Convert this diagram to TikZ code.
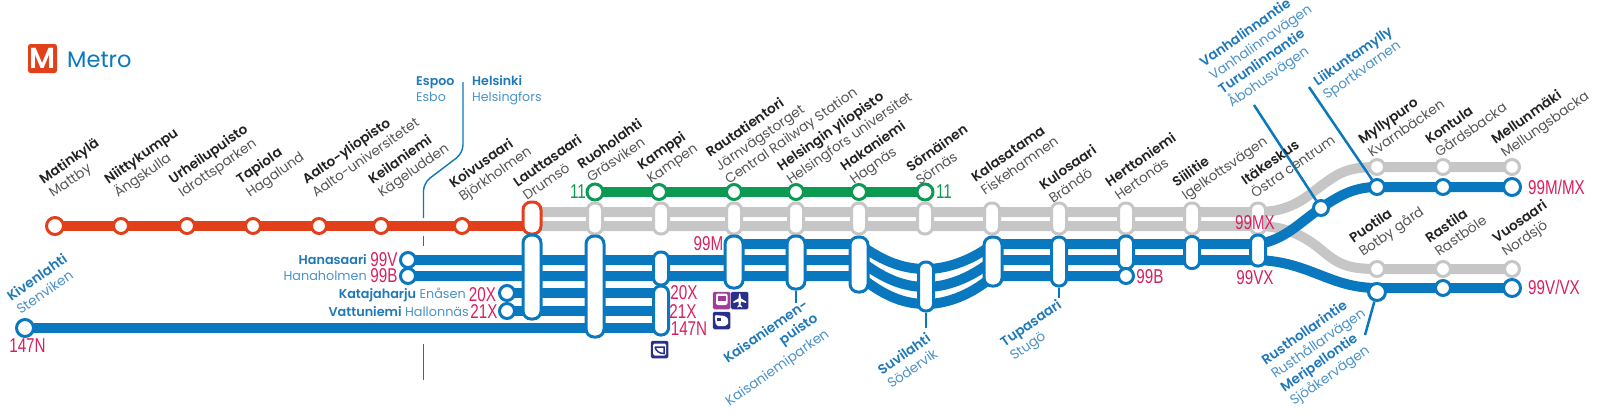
\documentclass[tikz,border=0pt]{standalone}
\usepackage{fontspec}
\setmainfont{Poppins}[BoldFont={Poppins SemiBold}]
\newfontfamily\codefont[FakeStretch=0.76]{Liberation Sans}
\usetikzlibrary{backgrounds}

\definecolor{metroorange}{HTML}{E1401A}
\definecolor{metroblue}{HTML}{0A78BE}
\definecolor{metrogreen}{HTML}{0C9A52}
\definecolor{metrogray}{HTML}{C6C6C6}
\definecolor{coderose}{HTML}{D81F5E}
\definecolor{labeldark}{HTML}{222222}
\definecolor{labelgray}{HTML}{555555}
\definecolor{labelblue}{HTML}{1F78B8}
\definecolor{labelsky}{HTML}{4C92C8}
\definecolor{iconnavy}{HTML}{27308A}
\definecolor{iconpurple}{HTML}{A23C96}

\newcommand{\sv}[1]{\textcolor{labelgray}{#1}}
\newcommand{\svb}[1]{\textcolor{labelsky}{#1}}

\tikzset{
    stoplabel/.style={rotate=35,anchor=base west,inner sep=0pt,align=left,text=labeldark,font=\fontsize{13.6}{16.5}\selectfont},
    bluelabel/.style={stoplabel,text=labelblue},
    sidelabel/.style={anchor=east,inner sep=0pt,text=labelblue,font=\fontsize{12.8}{15}\selectfont},
    code/.style={anchor=center,inner sep=0pt,text=coderose,font=\fontsize{20}{20}\selectfont\codefont},
    stop/.style={circle,draw=#1,fill=white,line width=3pt,inner sep=0pt,minimum size=15pt},
    endstop/.style={stop=#1,minimum size=17pt},
    pill/.style={rectangle,rounded corners=8pt,draw=#1,fill=white,line width=3pt,inner sep=0pt,minimum width=18pt},
    thinpill/.style={pill=#1,minimum width=15pt,rounded corners=7pt},
    line/.style={draw=#1,line width=10pt},
    stem/.style={draw=metroblue,line width=2.5pt},
    iconbox/.style={rectangle,rounded corners=1.5pt,fill=#1,inner sep=0pt,minimum size=17.5pt}
}

\begin{document}
\begin{tikzpicture}[x=1pt,y=-1pt]
    \useasboundingbox (0,0) rectangle (1600,418);

    \node[rectangle,rounded corners=2.5pt,fill=metroorange,text=white,inner sep=0pt,minimum size=29pt,font=\fontsize{29}{29}\selectfont\bfseries] (logo) at (42.5,58.5) {M};
    \node[anchor=base west,inner sep=0pt,text=metroblue,font=\fontsize{22.5}{23}\selectfont] (metro) at (67,67) {Metro};

    \coordinate (row1) at (0,244);
    \coordinate (row2) at (0,260);
    \coordinate (row3) at (0,276);
    \coordinate (row4) at (0,293);
    \coordinate (row5) at (0,311);
    \coordinate (row6) at (0,328);
    \coordinate (gray1) at (0,212);
    \coordinate (gray2) at (0,226);

    \node[endstop=metroorange] (matinkyla) at (55,226) {};
    \node[stop=metroorange] (niittykumpu) at (121,226) {};
    \node[stop=metroorange] (urheilupuisto) at (187,226) {};
    \node[stop=metroorange] (tapiola) at (253,226) {};
    \node[stop=metroorange] (aalto) at (319,226) {};
    \node[stop=metroorange] (keilaniemi) at (381,226) {};
    \node[stop=metroorange] (koivusaari) at (462,226) {};

    \node[stop=metrogreen,minimum size=16pt] (ruoholahtig) at (595,192) {};
    \node[stop=metrogreen] (kamppig) at (659,192) {};
    \node[stop=metrogreen] (rautag) at (734,192) {};
    \node[stop=metrogreen] (helyog) at (796,192) {};
    \node[stop=metrogreen] (hakaniemig) at (859,192) {};
    \node[stop=metrogreen,minimum size=16pt] (sornainen) at (925,192) {};

    \node[pill=metroorange,minimum height=32pt] (lauttao) at (532,218) {};
    \node[thinpill=metrogray,minimum height=31pt] (ruohoh) at (595,218.5) {};
    \node[thinpill=metrogray,minimum height=31pt] (kamppih) at (661,218.5) {};
    \node[thinpill=metrogray,minimum height=31pt] (rautah) at (734,218.5) {};
    \node[thinpill=metrogray,minimum height=31pt] (kaisah) at (796,218.5) {};
    \node[thinpill=metrogray,minimum height=31pt] (hakah) at (859,218.5) {};
    \node[thinpill=metrogray,minimum height=31pt] (sornah) at (925,218.5) {};
    \node[thinpill=metrogray,minimum height=31pt] (kalah) at (992,218.5) {};
    \node[thinpill=metrogray,minimum height=31pt] (kuloh) at (1059,218.5) {};
    \node[thinpill=metrogray,minimum height=31pt] (herttoh) at (1126,218.5) {};
    \node[thinpill=metrogray,minimum height=31pt] (siilih) at (1192,218.5) {};
    \node[thinpill=metrogray,minimum height=31pt] (itah) at (1258,218.5) {};

    \node[stop=metrogray] (myllyh) at (1377,167) {};
    \node[stop=metrogray] (kontulah) at (1443,167) {};
    \node[stop=metrogray] (mellunh) at (1512,167) {};
    \node[stop=metrogray] (puotilah) at (1377,269) {};
    \node[stop=metrogray] (rastilah) at (1443,269) {};
    \node[stop=metrogray] (vuosaarih) at (1512,269) {};

    \node[stop=metroblue] (hanasaari) at (408,260) {};
    \node[stop=metroblue] (hanaholmen) at (408,276) {};
    \node[stop=metroblue] (katajaharju) at (507,293) {};
    \node[stop=metroblue] (vattuniemi) at (507,311) {};
    \node[endstop=metroblue] (kivenlahti) at (25,328) {};

    \node[pill=metroblue,minimum height=84pt] (lauttab) at (532,277) {};
    \node[pill=metroblue,minimum height=101pt] (ruohob) at (595,286.5) {};
    \node[thinpill=metroblue,minimum height=33pt] (kamppiu) at (661,268.5) {};
    \node[thinpill=metroblue,minimum height=49pt] (kamppil) at (661,310.5) {};
    \node[pill=metroblue,minimum height=52pt] (rautab) at (734,262) {};
    \node[pill=metroblue,minimum height=53pt] (kaisab) at (796,262.5) {};
    \node[pill=metroblue,minimum height=55pt] (hakab) at (859,264.5) {};
    \node[thinpill=metroblue,minimum height=49pt] (suvib) at (926,286.5) {};
    \node[pill=metroblue,minimum height=49pt] (kalab) at (993,261.5) {};
    \node[thinpill=metroblue,minimum height=49pt] (tupab) at (1059,261.5) {};
    \node[thinpill=metroblue,minimum height=33pt] (herttob) at (1126,252.5) {};
    \node[stop=metroblue] (herttoc) at (1126,276) {};
    \node[thinpill=metroblue,minimum height=32pt] (siilib) at (1192,252.5) {};
    \node[thinpill=metroblue,minimum height=31pt] (itab) at (1258,250.5) {};

    \node[stop=metroblue] (turun) at (1321,208) {};
    \node[stop=metroblue] (myllyb) at (1377,187) {};
    \node[stop=metroblue] (kontulab) at (1443,187) {};
    \node[endstop=metroblue] (mellunb) at (1512,187) {};
    \node[endstop=metroblue] (rusthollari) at (1377,292) {};
    \node[stop=metroblue] (rastilab) at (1443,288) {};
    \node[endstop=metroblue] (vuosaarib) at (1512,288) {};

    \coordinate (tupastem) at (1059,298);
    \coordinate (kaisastem) at (796,303);
    \coordinate (suvistem) at (926,328);
    \coordinate (turunstem) at (1254,105);
    \coordinate (liikustem) at (1309,87);
    \coordinate (rusthstem) at (1365,335);
    \coordinate (bordera) at (463,82);
    \coordinate (borderb) at (463,153);
    \coordinate (borderc) at (423.5,183);
    \coordinate (borderd) at (423.5,218);
    \coordinate (bordere) at (423.5,236);
    \coordinate (borderf) at (423.5,246);
    \coordinate (borderg) at (423.5,344);
    \coordinate (borderh) at (423.5,380);

    \begin{pgfonlayer}{background}
        \draw[line=metroorange] (matinkyla.center) -- (lauttao |- matinkyla);
        \draw[line=metrogreen] (ruoholahtig.center) -- (sornainen.center);

        \draw[line=metrogray] (lauttao |- gray1) -- (itah |- gray1)
            .. controls (1295,212) and (1310,193) .. (1325,183)
            .. controls (1340,172) and (1350,167) .. (myllyh.center) -- (mellunh.center);
        \draw[line=metrogray] (lauttao |- gray2) -- (itah |- gray2)
            .. controls (1290,226) and (1310,240) .. (1325,253)
            .. controls (1340,265) and (1350,269) .. (puotilah.center) -- (vuosaarih.center);

        \draw[line=metroblue] (rautab |- row1) -- (hakab |- row1)
            .. controls (885,263) and (905,269) .. (926,269)
            .. controls (950,269) and (975,258) .. (kalab |- row1) -- (itab |- row1)
            .. controls (1285,240) and (1300,222) .. (turun.center)
            .. controls (1340,195) and (1355,187) .. (myllyb.center) -- (mellunb.center);
        \draw[line=metroblue] (hanasaari.center) -- (hakab |- row2)
            .. controls (885,280) and (905,287) .. (926,287)
            .. controls (950,287) and (975,275) .. (kalab |- row2) -- (itab |- row2)
            .. controls (1310,262) and (1330,288) .. (rusthollari |- rastilab)
            -- (vuosaarib.center);
        \draw[line=metroblue] (hanaholmen.center) -- (hakab |- row3)
            .. controls (885,297) and (905,304) .. (926,304)
            .. controls (950,304) and (975,292) .. (kalab |- row3) -- (herttoc.center);
        \draw[line=metroblue] (katajaharju.center) -- (kamppil |- row4);
        \draw[line=metroblue] (vattuniemi.center) -- (kamppil |- row5);
        \draw[line=metroblue] (kivenlahti.center) -- (kamppil |- row6);

        \draw[stem] (tupab) -- (tupastem);
        \draw[stem] (kaisab) -- (kaisastem);
        \draw[stem] (suvib) -- (suvistem);
        \draw[stem] (turun) -- (turunstem);
        \draw[stem] (myllyb) -- (liikustem);
        \draw[stem] (rusthollari) -- (rusthstem);

        \draw[draw=metroblue,line width=1.4pt,rounded corners=8pt] (bordera) -- (borderb) -- (borderc) -- (borderd);
        \draw[draw=metroblue,line width=1.4pt] (bordere) -- (borderf);
        \draw[draw=metroblue,line width=1.4pt] (borderg) -- (borderh);
    \end{pgfonlayer}

    \node[stoplabel] (t1) at (53,198) {\textbf{Matinkylä}\\\sv{Mattby}};
    \node[stoplabel] (t2) at (118,198) {\textbf{Niittykumpu}\\\sv{Ängskulla}};
    \node[stoplabel] (t3) at (182.5,198) {\textbf{Urheilupuisto}\\\sv{Idrottsparken}};
    \node[stoplabel] (t4) at (250,198) {\textbf{Tapiola}\\\sv{Hagalund}};
    \node[stoplabel] (t5) at (316,198) {\textbf{Aalto-yliopisto}\\\sv{Aalto-universitetet}};
    \node[stoplabel] (t6) at (382,198) {\textbf{Keilaniemi}\\\sv{Kägeludden}};
    \node[stoplabel] (t7) at (463,202) {\textbf{Koivusaari}\\\sv{Björkholmen}};
    \node[stoplabel] (t8) at (527,201) {\textbf{Lauttasaari}\\\sv{Drumsö}};
    \node[stoplabel] (t9) at (591,183) {\textbf{Ruoholahti}\\\sv{Gräsviken}};
    \node[stoplabel] (t10) at (651,184) {\textbf{Kamppi}\\\sv{Kampen}};
    \node[stoplabel] (t11) at (729,185) {\textbf{Rautatientori}\\\sv{Järnvägstorget}\\\sv{Central Railway Station}};
    \node[stoplabel] (t12) at (790.6,185) {\textbf{Helsingin yliopisto}\\\sv{Helsingfors universitet}};
    \node[stoplabel] (t13) at (854,185) {\textbf{Hakaniemi}\\\sv{Hagnäs}};
    \node[stoplabel] (t14) at (920,186) {\textbf{Sörnäinen}\\\sv{Sörnäs}};
    \node[stoplabel] (t15) at (985,196) {\textbf{Kalasatama}\\\sv{Fiskehamnen}};
    \node[stoplabel] (t16) at (1053,204) {\textbf{Kulosaari}\\\sv{Brändö}};
    \node[stoplabel] (t17) at (1119,201) {\textbf{Herttoniemi}\\\sv{Hertonäs}};
    \node[stoplabel] (t18) at (1186,201) {\textbf{Siilitie}\\\sv{Igelkottsvägen}};
    \node[stoplabel] (t19) at (1255,199) {\textbf{Itäkeskus}\\\sv{Östra centrum}};
    \node[stoplabel] (t20) at (1372,158) {\textbf{Myllypuro}\\\sv{Kvarnbäcken}};
    \node[stoplabel] (t21) at (1439,158) {\textbf{Kontula}\\\sv{Gårdsbacka}};
    \node[stoplabel] (t22) at (1505,158) {\textbf{Mellunmäki}\\\sv{Mellungsbacka}};
    \node[stoplabel] (t23) at (1363,257) {\textbf{Puotila}\\\sv{Botby gård}};
    \node[stoplabel] (t24) at (1439,257) {\textbf{Rastila}\\\sv{Rastböle}};
    \node[stoplabel] (t25) at (1506,257) {\textbf{Vuosaari}\\\sv{Nordsjö}};

    \node[bluelabel] (t26) at (20.6,315) {\textbf{Kivenlahti}\\\svb{Stenviken}};
    \node[bluelabel,anchor=base east,align=right] (t27) at (830,336) {\textbf{Kaisaniemen-}\\\textbf{puisto}\\[3pt]\svb{Kaisaniemiparken}};
    \node[bluelabel] (t28) at (891.5,389) {\textbf{Suvilahti}\\\svb{Södervik}};
    \node[bluelabel] (t29) at (1014,361) {\textbf{Tupasaari}\\\svb{Stugö}};
    \node[bluelabel] (t30) at (1232,108) {\textbf{Vanhalinnantie}\\\svb{Vanhalinnavägen}\\\textbf{Turunlinnantie}\\\svb{Åbohusvägen}};
    \node[bluelabel] (t31) at (1327,100) {\textbf{Liikuntamylly}\\\svb{Sportkvarnen}};
    \node[bluelabel] (t32) at (1294,406) {\textbf{Rusthollarintie}\\\svb{Rusthållarvägen}\\\textbf{Meripellontie}\\\svb{Sjöåkervägen}};

    \node[anchor=base west,inner sep=0pt,align=left,text=labelblue,font=\fontsize{12.6}{16}\selectfont] (espoo) at (416,101) {\textbf{Espoo}\\\svb{Esbo}};
    \node[anchor=base west,inner sep=0pt,align=left,text=labelblue,font=\fontsize{12.6}{16}\selectfont] (helsinki) at (472,101) {\textbf{Helsinki}\\\svb{Helsingfors}};

    \node[sidelabel] (s1) at (367,260) {\textbf{Hanasaari}};
    \node[sidelabel] (s2) at (367,276) {\svb{Hanaholmen}};
    \node[sidelabel] (s3) at (466,295) {\textbf{Katajaharju} \svb{Enåsen}};
    \node[sidelabel] (s4) at (469,312) {\textbf{Vattuniemi} \svb{Hallonnäs}};

    \node[code] (c1) at (384,260) {99V};
    \node[code] (c2) at (384,276) {99B};
    \node[code] (c3) at (482.5,295) {20X};
    \node[code] (c4) at (484,312) {21X};
    \node[code] (c5) at (27.5,346) {147N};
    \node[code,text=metrogreen] (c6) at (578,192) {11};
    \node[code,text=metrogreen] (c7) at (944,192) {11};
    \node[code] (c8) at (708.5,244) {99M};
    \node[code] (c9) at (684,293) {20X};
    \node[code] (c10) at (683,312) {21X};
    \node[code] (c11) at (689,329) {147N};
    \node[code] (c12) at (1150,277) {99B};
    \node[code] (c13) at (1255,223) {99MX};
    \node[code] (c14) at (1255,278) {99VX};
    \node[code] (c15) at (1556.5,187) {99M/MX};
    \node[code] (c16) at (1554,287) {99V/VX};

    \node[iconbox=iconpurple] (trainicon) at (721.7,300.5) {};
    \node[iconbox=iconnavy] (planeicon) at (739.5,300.5) {};
    \node[iconbox=iconnavy] (busicon) at (721.7,320.5) {};
    \node[iconbox=iconnavy] (ferryicon) at (659.5,349.5) {};

    \fill[white,rounded corners=2pt] (716,293.5) rectangle (727.5,305);
    \fill[iconpurple] (718,296) rectangle (725.5,301);
    \fill[white] (739.2,293.5) -- (740.2,293.5) -- (741,298.5) -- (746,301.5) -- (746,303) -- (741,301.5) -- (740.5,305) -- (742,306.5) -- (742,307.5) -- (739.7,306.5) -- (737.4,307.5) -- (737.4,306.5) -- (738.8,305) -- (738.4,301.5) -- (733.4,303) -- (733.4,301.5) -- (738.4,298.5) -- cycle;
    \fill[white,rounded corners=2pt] (714.5,315) -- (726,316) -- (729,321) -- (727,326) -- (716,326) -- cycle;
    \fill[iconnavy] (717,318) rectangle (721,321);
    \fill[white,rounded corners=1.5pt] (653,343.5) rectangle (666,355.5);
    \draw[iconnavy,line width=1.5pt] (655,347) -- (664,347) -- (664,353.5) .. controls (659,353.5) and (656,351) .. (655,347);
\end{tikzpicture}
\end{document}
